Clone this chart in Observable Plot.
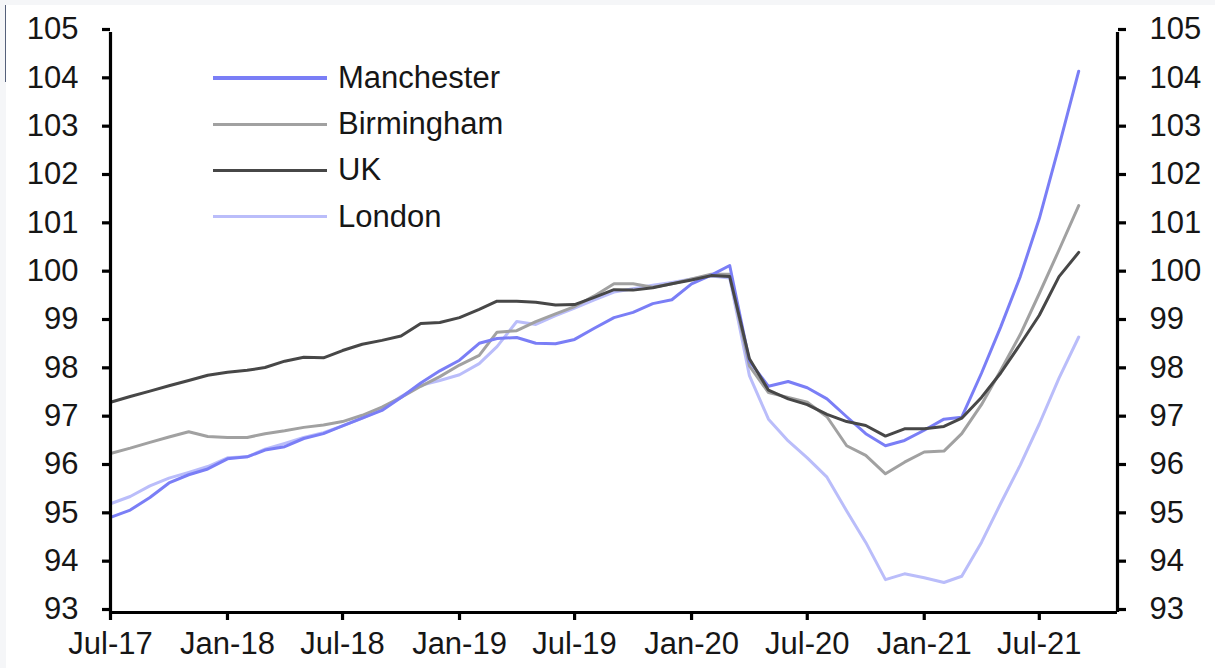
<!DOCTYPE html>
<html>
<head>
<meta charset="utf-8">
<script src="https://cdn.jsdelivr.net/npm/d3@7"></script>
<script src="https://cdn.jsdelivr.net/npm/@observablehq/plot@0.6"></script>
<style>
  html, body { margin: 0; padding: 0; background: #f5f6f8; }
  #wrap { position: absolute; left: 6px; top: 5px; width: 1209px; height: 663px; background: #ffffff; overflow: hidden; }
  #cursor { position: absolute; left: 5px; top: 5px; width: 1px; height: 77px; background: #55607a; }
  #legend { position: absolute; left: 207px; top: 50px; font-family: "Liberation Sans", Arial, sans-serif; font-size: 31px; color: #161616; }
  .row { display: flex; align-items: center; height: 46.2px; }
  .sw { width: 114px; height: 3.5px; margin-right: 11px; }
</style>
</head>
<body>
<div id="cursor"></div>
<div id="wrap"><div id="chart"></div><div id="legend"></div></div>
<script>
// ---- data (monthly index, Jul-2017 .. Sep-2021) ----
const seriesNames = ["Manchester", "Birmingham", "UK", "London"];
const firstMonth = "2017-07-01";
const lastAxisMonth = "2021-11-01";
const xTickLabels = ["Jul-17","Jan-18","Jul-18","Jan-19","Jul-19","Jan-20","Jul-20","Jan-21","Jul-21"];
const yTicks = [93,94,95,96,97,98,99,100,101,102,103,104,105];

const manchester = [94.97,95.12,95.38,95.68,95.85,95.97,96.18,96.22,96.36,96.43,
  96.60,96.70,96.86,97.02,97.18,97.45,97.75,98.00,98.22,98.57,
  98.67,98.69,98.57,98.56,98.65,98.88,99.10,99.21,99.39,99.47,
  99.80,99.98,100.18,98.20,97.68,97.78,97.65,97.42,97.05,96.70,
  96.45,96.56,96.77,97.00,97.04,97.95,98.90,99.95,101.15,102.65,
  104.20];
const birmingham = [96.29,96.40,96.52,96.63,96.74,96.64,96.62,96.62,96.70,96.76,
  96.83,96.88,96.95,97.08,97.25,97.45,97.68,97.88,98.12,98.32,
  98.80,98.83,99.02,99.18,99.33,99.55,99.80,99.80,99.73,99.80,
  99.90,100.00,100.00,98.10,97.55,97.45,97.35,97.05,96.45,96.25,
  95.87,96.11,96.32,96.34,96.70,97.30,98.00,98.75,99.60,100.50,
  101.42];
const uk = [97.35,97.47,97.58,97.69,97.80,97.91,97.97,98.01,98.07,98.20,
  98.28,98.27,98.42,98.55,98.63,98.72,98.98,99.00,99.10,99.27,
  99.44,99.44,99.42,99.36,99.37,99.52,99.68,99.67,99.72,99.80,
  99.88,99.97,99.95,98.25,97.60,97.42,97.30,97.10,96.95,96.87,
  96.65,96.80,96.80,96.85,97.02,97.45,97.95,98.55,99.15,99.95,
  100.45];
const london = [95.25,95.40,95.62,95.78,95.90,96.02,96.20,96.22,96.38,96.50,
  96.62,96.72,96.86,97.02,97.20,97.47,97.70,97.80,97.92,98.15,
  98.50,99.02,98.96,99.14,99.30,99.47,99.63,99.70,99.77,99.83,
  99.90,99.96,99.92,97.90,97.00,96.55,96.20,95.80,95.10,94.45,
  93.68,93.80,93.72,93.62,93.75,94.45,95.25,96.05,96.90,97.85,
  98.70];

const valuesByName = {Manchester: manchester, Birmingham: birmingham, UK: uk, London: london};
const colorRange = ["#7a7ef6", "#a1a1a1", "#474747", "#babdfa"];
const drawOrder = ["London", "Birmingham", "Manchester", "UK"];

const start = new Date(firstMonth + "T00:00:00Z");
const end = new Date(lastAxisMonth + "T00:00:00Z");
const rows = drawOrder.flatMap(name => valuesByName[name].map((v, i) => ({
  series: name, date: d3.utcMonth.offset(start, i), value: v
})));
const xTicks = xTickLabels.map((_, k) => d3.utcMonth.offset(start, 6 * k));

const chart = Plot.plot({
  width: 1209,
  height: 663,
  marginLeft: 104,
  marginRight: 98,
  marginTop: 27,
  marginBottom: 56,
  style: {fontFamily: "'Liberation Sans', Arial, sans-serif", fontSize: "31px", color: "#161616", background: "#ffffff", overflow: "visible"},
  x: {type: "utc", domain: [start, end]},
  y: {domain: [93, 105]},
  color: {domain: seriesNames, range: colorRange},
  marks: [
    Plot.lineY(rows, {x: "date", y: "value", z: "series", stroke: "series", strokeWidth: 3, strokeLinejoin: "round"}),
    Plot.ruleX([start, end], {stroke: "#000", strokeWidth: 3.2}),
    Plot.ruleY([93], {stroke: "#000", strokeWidth: 3.2}),
    Plot.axisY({anchor: "left", ticks: yTicks, tickSize: 8, tickPadding: 24, strokeWidth: 3.2, stroke: "#000", dy: -3, label: null, fill: "#161616"}),
    Plot.axisY({anchor: "right", ticks: yTicks, tickSize: 8, tickPadding: 24, strokeWidth: 3.2, stroke: "#000", dy: -3, label: null, fill: "#161616"}),
    Plot.axisX({anchor: "bottom", ticks: xTicks, tickFormat: d => xTickLabels[xTicks.findIndex(t => +t === +d)], tickSize: 8, tickPadding: 11, strokeWidth: 3.2, stroke: "#000", label: null, fill: "#161616"})
  ]
});
document.getElementById("chart").appendChild(chart);

const legend = d3.select("#legend");
seriesNames.forEach((name, k) => {
  const row = legend.append("div").attr("class", "row");
  row.append("div").attr("class", "sw").style("background", colorRange[k]);
  row.append("span").text(name);
});
</script>
</body>
</html>
